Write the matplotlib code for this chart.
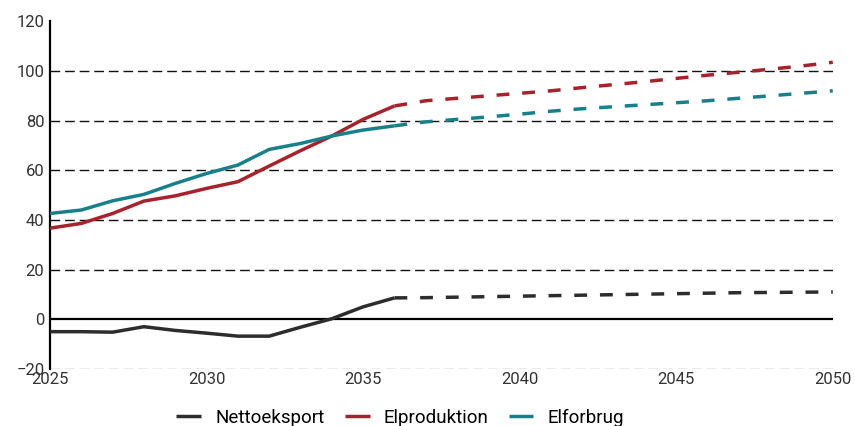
import matplotlib
matplotlib.use("Agg")
import matplotlib.pyplot as plt

# ── Data (TWh) ───────────────────────────────────────────────────────────────

years_hist = [2025, 2026, 2027, 2028, 2029, 2030, 2031, 2032, 2033, 2034, 2035, 2036]
netto_hist = [-5.0, -5.0, -5.2, -3.0, -4.5, -5.6, -6.8, -6.8, -3.2, 0.2, 5.0, 8.6]
prod_hist = [36.7, 38.6, 42.6, 47.6, 49.7, 52.7, 55.4, 61.7, 67.9, 73.8, 80.5, 85.9]
forbrug_hist = [42.6, 44.0, 47.7, 50.3, 54.7, 58.7, 62.1, 68.4, 70.8, 73.8, 76.2, 77.9]

years_proj = [2036, 2037, 2038, 2039, 2040, 2041, 2042, 2043, 2044, 2045,
              2046, 2047, 2048, 2049, 2050]
netto_proj = [8.6, 8.7, 8.9, 9.1, 9.3, 9.5, 9.7, 9.9, 10.1, 10.3,
              10.5, 10.7, 10.8, 10.9, 11.0]
prod_proj = [85.9, 88.0, 89.0, 90.0, 91.0, 92.0, 93.3, 94.5, 95.7, 97.0,
             98.3, 99.5, 100.7, 102.0, 103.5]
forbrug_proj = [77.9, 79.5, 80.5, 81.5, 82.6, 83.8, 84.8, 85.6, 86.4, 87.2,
                88.0, 89.0, 90.0, 91.0, 92.0]

labels = ["Nettoeksport", "Elproduktion", "Elforbrug"]
x_ticks = [2025, 2030, 2035, 2040, 2045, 2050]
y_ticks = [-20, 0, 20, 40, 60, 80, 100, 120]

# ── Styling ──────────────────────────────────────────────────────────────────

COLORS = ["#2d2d2d", "#a8222b", "#18808a"]
LW = 2.5
plt.rcParams["font.family"] = ["Roboto", "DejaVu Sans"]
plt.rcParams["font.size"] = 12

fig = plt.figure(figsize=(8.55, 4.26), dpi=100)
ax = fig.add_axes([0.0585, 0.134, 0.974 - 0.0585, 0.950 - 0.134])

# gridlines
for v in [20, 40, 60, 80, 100]:
    ax.axhline(v, color="#111111", lw=1.0, ls=(0, (7, 3.5)), zorder=1)
ax.axhline(-20, color="#9a9a9a", lw=1.0, ls=(0, (7, 3.5)), zorder=1)
ax.axhline(0, color="black", lw=1.6, zorder=2)

series = [(netto_hist, netto_proj), (prod_hist, prod_proj), (forbrug_hist, forbrug_proj)]
for (hist, proj), color, label in zip(series, COLORS, labels):
    ax.plot(years_hist, hist, color=color, lw=LW, solid_capstyle="butt",
            label=label, zorder=3)
    ax.plot(years_proj, proj, color=color, lw=LW, ls=(0, (3.7, 3.7)),
            dash_capstyle="butt", zorder=3)

ax.set_xlim(2025, 2050)
ax.set_ylim(-20, 120)
ax.set_xticks(x_ticks)
ax.set_yticks(y_ticks)
ax.tick_params(length=0, colors="#333333", labelsize=12, pad=4)
ax.tick_params(axis="x", pad=2)
for side in ["top", "right", "bottom"]:
    ax.spines[side].set_visible(False)
ax.spines["left"].set_linewidth(1.6)
ax.spines["left"].set_color("black")

fig.legend(loc="center", bbox_to_anchor=(0.468, 0.02), ncol=3,
           frameon=False, handlelength=1.33, columnspacing=1.07,
           handletextpad=0.75, fontsize=13.5, borderpad=0)

plt.savefig("out.png", dpi=100, facecolor="white")
plt.close()
